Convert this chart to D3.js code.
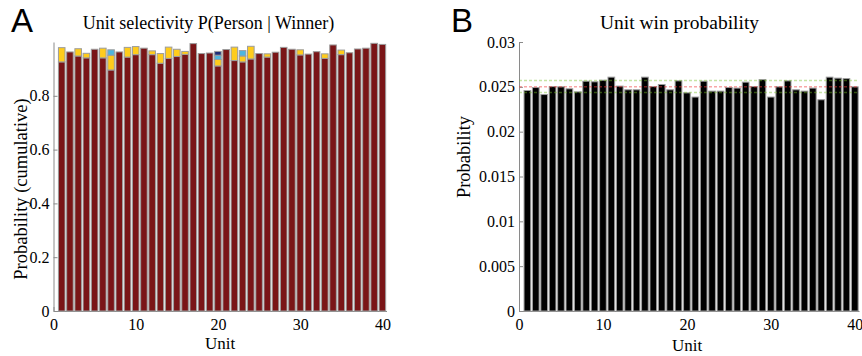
<!DOCTYPE html>
<html>
<head>
<meta charset="utf-8">
<script src="https://cdn.jsdelivr.net/npm/d3@7"></script>
<style>
  html, body { margin: 0; padding: 0; background: #fff; }
  svg { display: block; }
  text { font-family: "Liberation Serif", "Times New Roman", serif; fill: #000; }
  .panel-letter { font-family: "Liberation Sans", Arial, sans-serif; }
</style>
</head>
<body>
<svg id="fig" width="862" height="356"></svg>
<script>
// ---- Panel A: cumulative selectivity of each unit for the top persons ----
const units = d3.range(1, 41);
const personTop = [0.926, 0.963, 0.948, 0.941, 0.973, 0.941, 0.896, 0.963, 0.944, 0.953,
                   0.977, 0.953, 0.921, 0.939, 0.946, 0.954, 0.994, 0.957, 0.959, 0.911,
                   0.972, 0.931, 0.926, 0.937, 0.957, 0.944, 0.962, 0.980, 0.973, 0.952,
                   0.955, 0.964, 0.939, 0.989, 0.953, 0.960, 0.974, 0.977, 0.995, 0.991];
const personSecond = [0.053, 0, 0.027, 0.017, 0, 0.036, 0.055, 0, 0.036, 0.030,
                      0, 0.014, 0.036, 0.042, 0.027, 0.011, 0, 0, 0, 0.024,
                      0, 0.050, 0.022, 0.047, 0, 0.012, 0, 0, 0, 0.019,
                      0, 0, 0.017, 0, 0.017, 0, 0, 0, 0, 0];
const personThird = [0, 0, 0, 0, 0, 0, 0.020, 0, 0, 0,
                     0, 0, 0, 0, 0, 0, 0, 0, 0, 0.016,
                     0, 0, 0.020, 0, 0, 0, 0, 0, 0, 0,
                     0, 0, 0, 0, 0, 0, 0, 0, 0, 0];
const personFourth = [0, 0, 0, 0, 0, 0, 0, 0, 0, 0,
                      0, 0, 0, 0, 0, 0, 0, 0, 0, 0.014,
                      0, 0, 0, 0, 0, 0, 0, 0, 0, 0,
                      0, 0, 0, 0, 0, 0, 0, 0, 0, 0];
const personKeys = ["p1", "p2", "p3", "p4"];
const personColors = ["#7a1517", "#ffcc1c", "#4db6df", "#1d2c78"];
const ticksA = [0, 0.2, 0.4, 0.6, 0.8];

// ---- Panel B: probability that each unit wins ----
const winProb = [0.02459, 0.02492, 0.02414, 0.02503, 0.02500, 0.02478, 0.02444, 0.02563, 0.02556, 0.02574,
                 0.02608, 0.02508, 0.02467, 0.02467, 0.02608, 0.02503, 0.02526, 0.02467, 0.02567, 0.02433,
                 0.02386, 0.02563, 0.02452, 0.02452, 0.02492, 0.02486, 0.02552, 0.02503, 0.02581, 0.02386,
                 0.02500, 0.02567, 0.02467, 0.02452, 0.02486, 0.02356, 0.02608, 0.02597, 0.02592, 0.02500];
const chanceLevel = 0.025;
const chanceBand = [0.02437, 0.0257];
const ticksB = [0, 0.005, 0.01, 0.015, 0.02, 0.025, 0.03];
const ticksX = [0, 10, 20, 30, 40];

const serif = '"Liberation Serif", "Times New Roman", serif';
const svg = d3.select("#fig");
const edge = "#9c9c9c";
const axisGray = "#8a8a8a";

function styleAxis(g, size) {
  g.attr("font-family", serif).attr("font-size", size);
  g.select(".domain").attr("stroke", axisGray).attr("stroke-width", 1);
  g.selectAll(".tick line").attr("stroke", axisGray);
  g.selectAll(".tick text")
    .attr("fill", "#000")
    .attr("font-family", serif)
    .style("font-family", serif)
    .style("font-size", size + "px");
}

function drawAxes(g, x, y, yTicks, box) {
  g.append("g")
    .attr("transform", `translate(0,${box.bottom})`)
    .call(d3.axisBottom(x).tickValues(ticksX).tickFormat(d3.format("d"))
      .tickSizeInner(-4).tickSizeOuter(0).tickPadding(8))
    .call(a => styleAxis(a, 16));
  g.append("g")
    .attr("transform", `translate(${box.left},0)`)
    .call(d3.axisLeft(y).tickValues(yTicks).tickFormat(d3.format("~g"))
      .tickSizeInner(-4).tickSizeOuter(0).tickPadding(4))
    .call(a => styleAxis(a, 16));
}

// ---------------- Panel A ----------------
const boxA = { left: 53.5, right: 386.5, top: 42, bottom: 311 };
const xA = d3.scaleLinear().domain([0, 40.5]).range([boxA.left, boxA.right]);
const yA = d3.scaleLinear().domain([0, 1]).range([boxA.bottom, boxA.top]);
const gA = svg.append("g");

drawAxes(gA, xA, yA, ticksA, boxA);

const rowsA = units.map((u, i) => ({
  unit: u, p1: personTop[i], p2: personSecond[i], p3: personThird[i], p4: personFourth[i]
}));
const stackA = d3.stack().keys(personKeys)(rowsA);

gA.append("g").selectAll("g")
  .data(stackA)
  .join("g")
  .attr("fill", (d, i) => personColors[i])
  .selectAll("rect")
  .data(d => d.filter(s => s[1] - s[0] > 0))
  .join("rect")
  .attr("x", d => xA(d.data.unit - 0.4))
  .attr("width", d => xA(d.data.unit + 0.4) - xA(d.data.unit - 0.4))
  .attr("y", d => yA(d[1]))
  .attr("height", d => yA(d[0]) - yA(d[1]))
  .attr("stroke", edge)
  .attr("stroke-width", 1);

gA.append("text")
  .attr("x", 208.5).attr("y", 29)
  .attr("text-anchor", "middle")
  .style("font-size", "18px")
  .text("Unit selectivity P(Person | Winner)");

gA.append("text")
  .attr("transform", "translate(27,189) rotate(-90)")
  .attr("text-anchor", "middle")
  .style("font-size", "18.5px")
  .text("Probability (cumulative)");

gA.append("text")
  .attr("x", 220).attr("y", 349)
  .attr("text-anchor", "middle")
  .style("font-size", "17px")
  .text("Unit");

svg.append("text").attr("class", "panel-letter")
  .attr("x", 11).attr("y", 32)
  .style("font-size", "33px")
  .text("A");

// ---------------- Panel B ----------------
const boxB = { left: 519, right: 859, top: 42, bottom: 311 };
const xB = d3.scaleLinear().domain([0, 40.5]).range([boxB.left, boxB.right]);
const yB = d3.scaleLinear().domain([0, 0.03]).range([boxB.bottom, boxB.top]);
const gB = svg.append("g");

drawAxes(gB, xB, yB, ticksB, boxB);

gB.append("g").selectAll("rect")
  .data(units)
  .join("rect")
  .attr("x", (u) => xB(u - 0.4))
  .attr("width", (u) => xB(u + 0.4) - xB(u - 0.4))
  .attr("y", (u, i) => yB(winProb[i]))
  .attr("height", (u, i) => yB(0) - yB(winProb[i]))
  .attr("fill", "#000")
  .attr("stroke", edge)
  .attr("stroke-width", 1);

// chance level and its band
const refLines = [
  { v: chanceBand[1], color: "rgba(120,190,40,0.42)" },
  { v: chanceLevel, color: "rgba(240,60,60,0.45)" },
  { v: chanceBand[0], color: "rgba(120,190,40,0.42)" }
];
gB.append("g").selectAll("line")
  .data(refLines)
  .join("line")
  .attr("x1", xB(0)).attr("x2", xB(40.4))
  .attr("y1", d => yB(d.v)).attr("y2", d => yB(d.v))
  .attr("stroke", d => d.color)
  .attr("stroke-width", 1.5)
  .attr("stroke-dasharray", "3,2");

gB.append("text")
  .attr("x", 679.5).attr("y", 29)
  .attr("text-anchor", "middle")
  .style("font-size", "19.5px")
  .text("Unit win probability");

gB.append("text")
  .attr("transform", "translate(470,157) rotate(-90)")
  .attr("text-anchor", "middle")
  .style("font-size", "18.5px")
  .text("Probability");

gB.append("text")
  .attr("x", 687).attr("y", 351)
  .attr("text-anchor", "middle")
  .style("font-size", "17px")
  .text("Unit");

svg.append("text").attr("class", "panel-letter")
  .attr("x", 451).attr("y", 32)
  .style("font-size", "33px")
  .text("B");
</script>
</body>
</html>
